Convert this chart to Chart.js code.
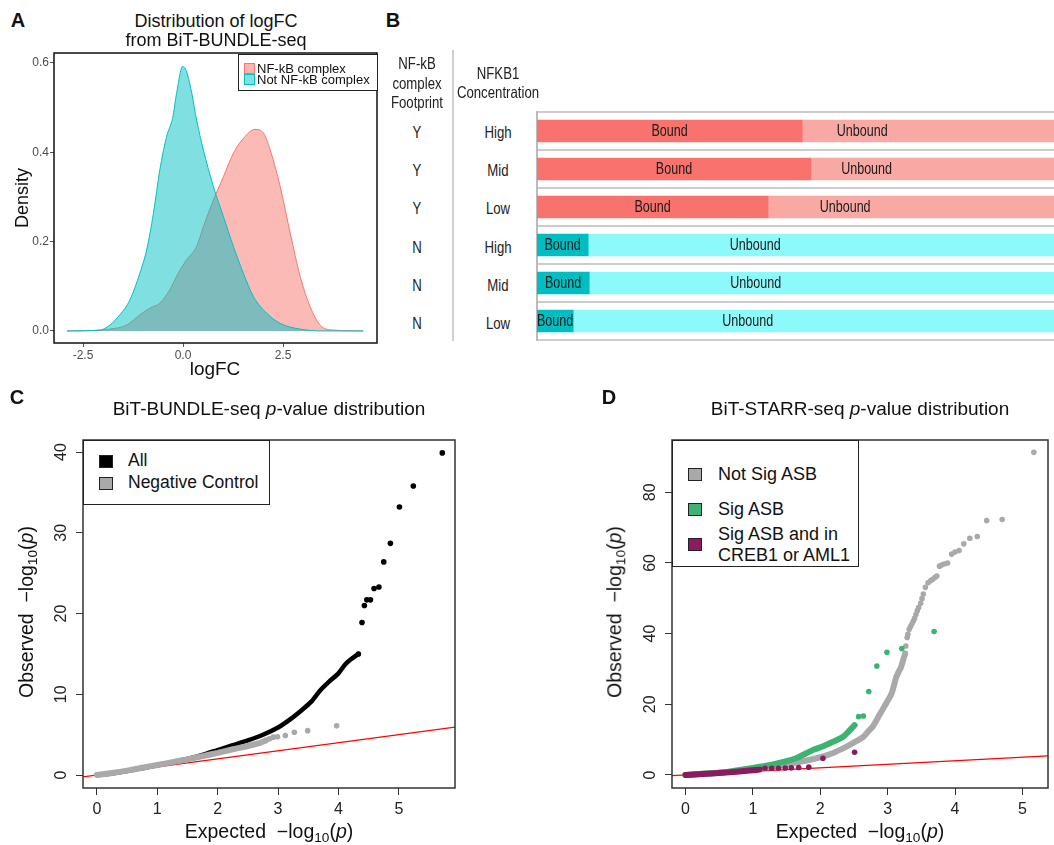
<!DOCTYPE html>
<html>
<head>
<meta charset="utf-8">
<script src="https://cdn.jsdelivr.net/npm/chart.js@4.4.1/dist/chart.umd.min.js"></script>
<style>
  body { margin: 0; width: 1054px; height: 845px; position: relative; background: #fff; overflow: hidden;
         font-family: "Liberation Sans", Arial, sans-serif; color: #111; }
  canvas { position: absolute; }
  .t { position: absolute; white-space: nowrap; line-height: 1; }
  .narrow { color: #222; }
  .sub { font-size: 0.7em; position: relative; top: 0.3em; }
  .box { position: absolute; border: 1px solid #222; background: #fff; }
  .key { position: absolute; border: 1px solid #222; }
</style>
</head>
<body>
<canvas id="chartA" width="390" height="340" style="left:0;top:40px"></canvas>
<canvas id="chartB" width="518" height="231" style="left:536px;top:111px"></canvas>
<canvas id="chartC" width="530" height="455" style="left:0;top:390px"></canvas>
<canvas id="chartD" width="524" height="455" style="left:530px;top:390px"></canvas>
<script>
// ---- panel A: density of logFC
const nfkbDensity = [[-2.9,0],[-2.2,0.001],[-1.83,0.004],[-1.41,0.013],[-1.08,0.036],[-0.83,0.051],[-0.58,0.062],[-0.33,0.092],
  [-0.12,0.129],[0.09,0.159],[0.34,0.189],[0.51,0.233],[0.76,0.293],[1.01,0.345],[1.26,0.398],[1.51,0.431],[1.80,0.451],
  [2.01,0.443],[2.18,0.405],[2.43,0.323],[2.68,0.219],[2.93,0.122],[3.18,0.054],[3.43,0.013],[3.76,0.002],[4.51,0]];
const notNfkbDensity = [[-2.9,0],[-2.08,0.002],[-1.83,0.013],[-1.58,0.036],[-1.33,0.069],[-1.08,0.129],[-0.91,0.181],
  [-0.74,0.263],[-0.58,0.36],[-0.41,0.435],[-0.26,0.476],[-0.16,0.532],[-0.01,0.592],[0.09,0.58],[0.22,0.532],[0.34,0.472],
  [0.51,0.405],[0.76,0.323],[1.01,0.256],[1.26,0.189],[1.51,0.129],[1.76,0.077],[2.09,0.04],[2.43,0.017],[2.93,0.004],[3.5,0],[4.51,0]];
const aTicksX = [-2.5, 0, 2.5];
const aTicksY = [0, 0.2, 0.4, 0.6];

// ---- panel B: bound / unbound fractions
const footprint = ['Y','Y','Y','N','N','N'];
const concentration = ['High','Mid','Low','High','Mid','Low'];
const boundPct = [51.3, 53.0, 44.7, 9.9, 10.1, 7.0];
const unboundPct = [48.7, 47.0, 55.3, 90.1, 89.9, 93.0];
const unboundLabelEdge = 74.5;

// ---- panel C: BiT-BUNDLE-seq QQ
const allDense = [[0,0],[0.25,0.2],[0.5,0.5],[0.75,0.85],[1.0,1.2],[1.25,1.6],[1.5,2.0],[1.75,2.5],[2.0,3.1],[2.25,3.7],
  [2.5,4.3],[2.75,5.0],[3.0,5.9],[3.2,6.9],[3.4,8.1],[3.55,9.1],[3.7,10.5],[3.85,11.6],[4.0,12.6],[4.1,13.6],[4.2,14.3],[4.33,15.0]];
const allTail = [[4.33,15.0],[4.39,18.9],[4.43,21.0],[4.47,21.7],[4.53,21.7],[4.59,23.1],[4.67,23.3],[4.75,26.4],[4.86,28.7],
  [5.01,33.2],[5.24,35.8],[5.72,39.9]];
const negDense = [[0,0],[0.25,0.25],[0.5,0.55],[0.75,0.9],[1.0,1.25],[1.25,1.6],[1.5,1.95],[1.75,2.35],[2.0,2.75],[2.25,3.2],
  [2.5,3.6],[2.7,4.0],[2.8,4.3]];
const negTail = [[2.86,4.5],[2.92,4.7],[2.99,4.75],[3.12,4.9],[3.27,5.3],[3.49,5.5],[3.97,6.1]];
const cTicksX = [0, 1, 2, 3, 4, 5];
const cTicksY = [0, 10, 20, 30, 40];

// ---- panel D: BiT-STARR-seq QQ
const notSigDense = [[0,0],[0.25,0.3],[0.5,0.6],[0.75,1.0],[1.0,1.6],[1.25,2.2],[1.5,3.0],[1.75,3.9],[2.0,5.0],[2.2,6.3],
  [2.39,8.0],[2.5,9.2],[2.64,10.8],[2.72,12.5],[2.78,13.7],[2.88,17.0],[2.98,20.3],[3.06,23.1],[3.13,27.8],[3.2,30.6],
  [3.23,32.5],[3.26,34.4]];
const notSigTail = [[3.27,36.5],[3.29,38.9],[3.30,39.8],[3.32,41.2],[3.34,42.0],[3.36,42.7],[3.38,43.5],[3.40,44.3],[3.42,45.4],
  [3.44,46.5],[3.46,47.4],[3.49,48.6],[3.51,49.9],[3.53,51.2],[3.56,53.1],[3.60,54.4],[3.64,55.0],[3.67,55.4],[3.70,55.9],
  [3.73,56.3],[3.77,59.1],[3.80,59.4],[3.84,59.7],[3.89,60.0],[3.95,62.5],[4.0,63.1],[4.06,63.5],[4.13,65.4],[4.22,67.0],
  [4.33,67.5],[4.47,72.0],[4.70,72.3],[5.17,91.3]];
const sigDense = [[0,0],[0.5,0.6],[0.9,1.7],[1.1,2.3],[1.3,3.0],[1.5,3.9],[1.65,4.8],[1.8,6.2],[1.9,7.1],[2.05,8.2],
  [2.19,9.4],[2.34,10.8],[2.44,12.7],[2.51,14.1]];
const sigTail = [[2.57,16.5],[2.64,16.7],[2.72,23.6],[2.84,30.8],[2.99,34.7],[3.21,35.8],[3.69,40.6]];
const crebDense = [[0,0],[0.25,0.25],[0.5,0.55],[0.75,0.9],[1.0,1.3],[1.1,1.5]];
const crebTail = [[1.18,1.9],[1.28,1.9],[1.38,1.9],[1.48,1.95],[1.57,2.0],[1.68,2.1],[1.83,2.2],[2.04,4.7],[2.51,6.4]];
const dTicksX = [0, 1, 2, 3, 4, 5];
const dTicksY = [0, 20, 40, 60, 80];

const RED_COL = '#F8766D', TEAL_COL = '#00BFC4';
const pts = a => a.map(p => ({x: p[0], y: p[1]}));

Chart.defaults.font.family = '"Liberation Sans", Arial, sans-serif';
Chart.defaults.animation = false;
Chart.defaults.plugins.legend.display = false;
Chart.defaults.plugins.tooltip.enabled = false;

const framePlugin = {
  id: 'frame',
  afterDraw(chart, args, opts) {
    const {ctx, chartArea: a} = chart;
    ctx.save();
    ctx.strokeStyle = opts.color || '#222';
    ctx.lineWidth = opts.width || 1.5;
    ctx.strokeRect(a.left, a.top, a.right - a.left, a.bottom - a.top);
    ctx.restore();
  }
};

// R-style y tick labels, rotated
const rotYPlugin = {
  id: 'rotY',
  afterDraw(chart, args, opts) {
    if (!opts.on) return;
    const {ctx, chartArea: a, scales} = chart;
    const y = scales.y;
    ctx.save();
    ctx.fillStyle = '#222';
    ctx.font = '16px "Liberation Sans", Arial, sans-serif';
    ctx.textAlign = 'center';
    ctx.textBaseline = 'middle';
    y.ticks.forEach(t => {
      const py = y.getPixelForValue(t.value);
      ctx.save();
      ctx.translate(a.left - 21, py);
      ctx.rotate(-Math.PI / 2);
      ctx.fillText(String(t.value), 0, 0);
      ctx.restore();
    });
    ctx.restore();
  }
};

function linAxis(min, max, ticks, fit, more) {
  return Object.assign({
    type: 'linear', min, max,
    afterBuildTicks: s => { s.ticks = ticks.map(v => ({value: v})); },
    afterFit: fit,
    border: {display: false},
  }, more);
}

// ---------- A
new Chart(document.getElementById('chartA'), {
  type: 'line',
  data: {
    datasets: [
      {data: pts(notNfkbDensity), borderColor: TEAL_COL, backgroundColor: 'rgba(0,191,196,0.5)', fill: 'origin',
       borderWidth: 1, pointRadius: 0, cubicInterpolationMode: 'monotone'},
      {data: pts(nfkbDensity), borderColor: RED_COL, backgroundColor: 'rgba(248,118,109,0.5)', fill: 'origin',
       borderWidth: 1, pointRadius: 0, cubicInterpolationMode: 'monotone'}
    ]
  },
  options: {
    responsive: false,
    layout: {padding: {left: 0, top: 13, right: 13, bottom: 0}},
    scales: {
      x: linAxis(-3.225, 4.85, aTicksX, s => { s.height = 37; }, {
        grid: {drawOnChartArea: false, tickLength: 4, color: '#555'},
        ticks: {color: '#4d4d4d', font: {size: 12}, padding: 1, maxRotation: 0, callback: v => v.toFixed(1)}
      }),
      y: linAxis(-0.027, 0.622, aTicksY, s => { s.width = 54; }, {
        grid: {drawOnChartArea: false, tickLength: 4, color: '#555'},
        ticks: {color: '#4d4d4d', font: {size: 12}, padding: 1, callback: v => v.toFixed(1)}
      })
    },
    plugins: {frame: {color: '#111', width: 1.5}}
  },
  plugins: [framePlugin]
});

// ---------- B
const boundCols = footprint.map(f => f === 'Y' ? '#F8736D' : '#00BDC2');
const unboundCols = footprint.map(f => f === 'Y' ? '#F9A9A4' : '#8CF9FB');
new Chart(document.getElementById('chartB'), {
  type: 'bar',
  data: {
    labels: concentration,
    datasets: [
      {label: 'Bound', data: boundPct, backgroundColor: boundCols, barThickness: 22, borderWidth: 0},
      {label: 'Unbound', data: unboundPct, backgroundColor: unboundCols, barThickness: 22, borderWidth: 0}
    ]
  },
  options: {
    responsive: false,
    indexAxis: 'y',
    layout: {padding: {left: 1, top: 1, right: 0, bottom: 2}},
    scales: {
      x: {stacked: true, min: 0, max: 100, display: false},
      y: {stacked: true, afterFit: s => { s.width = 0; },
          ticks: {display: false},
          grid: {offset: true, color: '#cccccc', lineWidth: 2, drawTicks: false},
          border: {color: '#bbbbbb', width: 2}}
    }
  },
  plugins: [{
    id: 'barText',
    afterDatasetsDraw(chart) {
      const {ctx, scales} = chart;
      const meta = chart.getDatasetMeta(0);
      const put = (s, x, y) => {
        ctx.save();
        ctx.translate(x, y);
        ctx.scale(0.76, 1);
        ctx.fillText(s, 0, 0);
        ctx.restore();
      };
      ctx.save();
      ctx.fillStyle = '#1a1a1a';
      ctx.font = '16.5px "Liberation Sans", Arial, sans-serif';
      ctx.textAlign = 'center';
      ctx.textBaseline = 'middle';
      meta.data.forEach((bar, i) => {
        put('Bound', (bar.base + bar.x) / 2, bar.y);
        const ux = (scales.x.getPixelForValue(boundPct[i]) + scales.x.getPixelForValue(unboundLabelEdge)) / 2;
        put('Unbound', ux, bar.y);
      });
      ctx.restore();
    }
  }]
});

// ---------- C / D helpers
const dense = (data, color, w) => ({data: pts(data), showLine: true, borderColor: color, borderWidth: w,
  pointRadius: 0, tension: 0.2, borderCapStyle: 'round', borderJoinStyle: 'round'});
const dots = (data, color) => ({data: pts(data), backgroundColor: color, borderWidth: 0, pointRadius: 2.8});
const refLine = (a, b) => ({data: [{x: a, y: a}, {x: b, y: b}], showLine: true, borderColor: '#ff0000',
  borderWidth: 1.2, pointRadius: 0});
const qqScales = (xr, yr, tx, ty, yw) => ({
  x: linAxis(xr[0], xr[1], tx, s => { s.height = 57; }, {
    grid: {drawOnChartArea: false, tickLength: 7, color: '#333', lineWidth: 1},
    ticks: {color: '#222', font: {size: 16}, padding: 5, maxRotation: 0}
  }),
  y: linAxis(yr[0], yr[1], ty, s => { s.width = yw; }, {
    grid: {drawOnChartArea: false, tickLength: 7, color: '#333', lineWidth: 1},
    ticks: {display: false}
  })
});

new Chart(document.getElementById('chartC'), {
  type: 'scatter',
  data: {
    datasets: [
      dots(negTail, '#A9A9A9'),
      dense(negDense, '#A9A9A9', 6),
      dots(allTail, '#000000'),
      dense(allDense, '#000000', 4.5),
      refLine(-1, 7)
    ]
  },
  options: {
    responsive: false,
    layout: {padding: {left: 0, top: 50, right: 75, bottom: 0}},
    scales: qqScales([-0.23, 5.93], [-1.6, 41.5], cTicksX, cTicksY, 83),
    plugins: {frame: {color: '#333', width: 1.5}, rotY: {on: true}}
  },
  plugins: [framePlugin, rotYPlugin]
});

new Chart(document.getElementById('chartD'), {
  type: 'scatter',
  data: {
    datasets: [
      dots(crebTail, '#8B1A5E'),
      dense(crebDense, '#8B1A5E', 6),
      dots(sigTail, '#3CB371'),
      dense(sigDense, '#3CB371', 6),
      dots(notSigTail, '#A9A9A9'),
      dense(notSigDense, '#A9A9A9', 6),
      refLine(-1, 6)
    ]
  },
  options: {
    responsive: false,
    layout: {padding: {left: 0, top: 50, right: 6, bottom: 0}},
    scales: qqScales([-0.2, 5.38], [-3.7, 94.8], dTicksX, dTicksY, 142),
    plugins: {frame: {color: '#333', width: 1.5}, rotY: {on: true}}
  },
  plugins: [framePlugin, rotYPlugin]
});

// ---------- text, legends
function txt(html, x, y, size, align, extra) {
  const d = document.createElement('div');
  d.className = 't';
  d.innerHTML = html;
  d.style.left = x + 'px';
  d.style.top = y + 'px';
  d.style.fontSize = size + 'px';
  const tx = align === 'left' ? '0' : '-50%';
  let tf = 'translate(' + tx + ',-50%)';
  if (extra && extra.rot) tf += ' rotate(-90deg)';
  if (extra && extra.cls === 'narrow') tf += ' scaleX(0.8)';
  d.style.transform = tf;
  if (extra && extra.cls) d.classList.add(extra.cls);
  if (extra && extra.bold) d.style.fontWeight = 'bold';
  document.body.appendChild(d);
  return d;
}
function box(x, y, w, h, bg) {
  const d = document.createElement('div');
  d.className = bg ? 'key' : 'box';
  Object.assign(d.style, {left: x + 'px', top: y + 'px', width: w + 'px', height: h + 'px'});
  if (bg) d.style.background = bg;
  document.body.appendChild(d);
}

// panel letters
txt('A', 18, 20, 20, 'c', {bold: true});
txt('B', 393, 20, 20, 'c', {bold: true});
txt('C', 17, 397, 20, 'c', {bold: true});
txt('D', 609, 397, 20, 'c', {bold: true});

// A text
txt('Distribution of logFC', 216, 21, 18);
txt('from BiT-BUNDLE-seq', 216, 40, 18);
txt('Density', 22, 198, 18, 'c', {rot: true});
txt('logFC', 215, 368, 19);
box(238, 54, 138, 35);
const aLegend = [['NF-kB complex', 'rgba(248,118,109,0.55)', RED_COL, 68], ['Not NF-kB complex', 'rgba(0,191,196,0.5)', TEAL_COL, 79]];
aLegend.forEach(([lab, fill, edge, cy]) => {
  const k = document.createElement('div');
  Object.assign(k.style, {position: 'absolute', left: '244px', top: (cy - 5) + 'px', width: '9px', height: '9px',
    background: fill, border: '1px solid ' + edge});
  document.body.appendChild(k);
  txt(lab, 257, cy, 13, 'left');
});

// B text
const vline = document.createElement('div');
Object.assign(vline.style, {position: 'absolute', left: '452px', top: '50px', width: '2px', height: '291px', background: '#d0d0d0'});
document.body.appendChild(vline);
txt('NF-kB', 417, 63, 16.5, 'c', {cls: 'narrow'});
txt('complex', 417, 83, 16.5, 'c', {cls: 'narrow'});
txt('Footprint', 417, 102, 16.5, 'c', {cls: 'narrow'});
txt('NFKB1', 498, 73, 16.5, 'c', {cls: 'narrow'});
txt('Concentration', 498, 92, 16.5, 'c', {cls: 'narrow'});
const rowY = [132, 170, 208, 247, 285, 323];
footprint.forEach((f, i) => {
  txt(f, 417, rowY[i], 16.5, 'c', {cls: 'narrow'});
  txt(concentration[i], 498, rowY[i], 16.5, 'c', {cls: 'narrow'});
});

// C text
txt('BiT-BUNDLE-seq <i>p</i>-value distribution', 269, 408, 19);
txt('Observed &nbsp;&minus;log<span class="sub">10</span>(<i>p</i>)', 27, 612, 19.5, 'c', {rot: true});
txt('Expected &nbsp;&minus;log<span class="sub">10</span>(<i>p</i>)', 269, 832, 19.5);
box(83, 440, 185, 63);
box(99, 455, 12, 11, '#000');
box(99, 477, 12, 11, '#A9A9A9');
txt('All', 128, 461, 17.5, 'left');
txt('Negative Control', 128, 483, 17.5, 'left');

// D text
txt('BiT-STARR-seq <i>p</i>-value distribution', 860, 408, 19);
txt('Observed &nbsp;&minus;log<span class="sub">10</span>(<i>p</i>)', 615, 612, 19.5, 'c', {rot: true});
txt('Expected &nbsp;&minus;log<span class="sub">10</span>(<i>p</i>)', 860, 832, 19.5);
box(672, 440, 185, 125);
box(688, 468, 12, 11, '#A9A9A9');
box(688, 503, 12, 11, '#3CB371');
box(688, 538, 12, 11, '#8B1A5E');
txt('Not Sig ASB', 718, 474, 18, 'left');
txt('Sig ASB', 718, 509, 18, 'left');
txt('Sig ASB and in', 718, 534, 18, 'left');
txt('CREB1 or AML1', 718, 555, 18, 'left');
</script>
</body>
</html>
